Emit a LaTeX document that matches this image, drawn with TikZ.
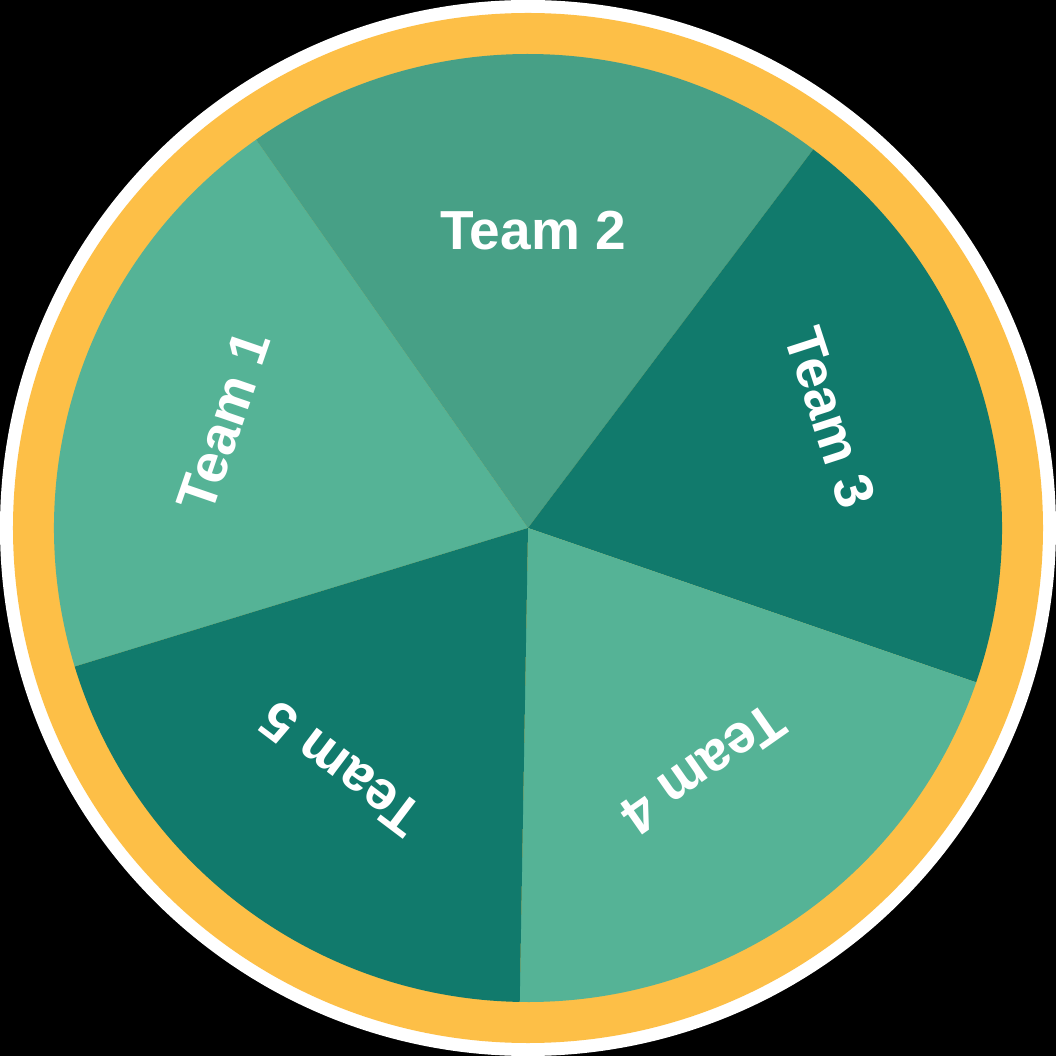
\documentclass[tikz,border=0pt]{standalone}
\usepackage{fontspec}
\setmainfont{Liberation Sans}
\definecolor{ring}{HTML}{FDBF47}
\definecolor{segLight}{HTML}{55B396}
\definecolor{segMid}{HTML}{47A086}
\definecolor{segDark}{HTML}{117A6C}
\begin{document}
\begin{tikzpicture}[x=1pt,y=1pt,
  lbl/.style={text=white, font=\bfseries\fontsize{55}{60}\selectfont, inner sep=0pt}]
\useasboundingbox (-528,-528) rectangle (528,528);
\fill[black] (-528,-528) rectangle (528,528);
\fill[white] (0,0) circle (528);
\fill[ring] (0,0) circle (515);
\fill[segLight] (0,0) -- (125:474) arc (125:197:474) -- cycle;
\fill[segMid]   (0,0) -- (53:474) arc (53:125:474) -- cycle;
\fill[segDark]  (0,0) -- (-19:474) arc (-19:53:474) -- cycle;
\fill[segLight] (0,0) -- (-91:474) arc (-91:-19:474) -- cycle;
\fill[segDark]  (0,0) -- (-163:474) arc (-163:-91:474) -- cycle;
\node[lbl, rotate=71]   (t1) at (160.7:322) {Team 1};
\node[lbl]              (t2) at (89:297)    {Team 2};
\node[lbl, rotate=-72]  (t3) at (20:322)    {Team 3};
\node[lbl, rotate=-145] (t4) at (-54:298)   {Team 4};
\node[lbl, rotate=143]  (t5) at (-127.8:305) {Team 5};
\end{tikzpicture}
\end{document}
